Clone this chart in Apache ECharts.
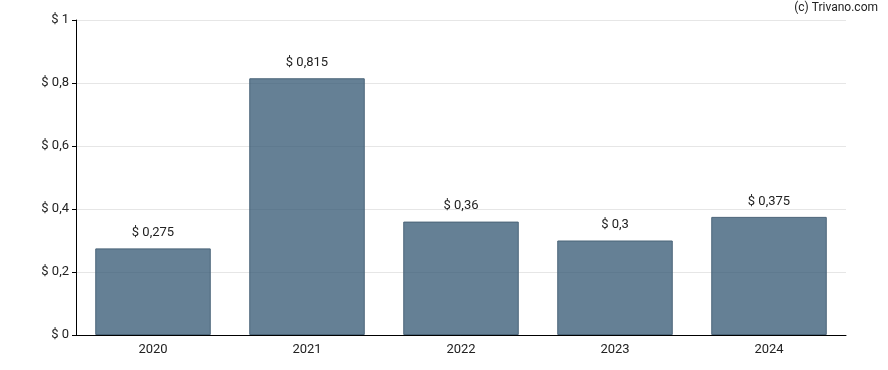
<!DOCTYPE html>
<html><head><meta charset="utf-8">
<script src="https://cdn.jsdelivr.net/npm/echarts@6/dist/echarts.min.js"></script>
<style>html,body{margin:0;padding:0;background:#fff}#c{width:888px;height:370px}</style>
</head><body><div id="c"></div>
<script>
const categories = ['2020','2021','2022','2023','2024'];
const values = [0.275, 0.815, 0.36, 0.3, 0.375];
const yTicks = [0, 0.2, 0.4, 0.6, 0.8, 1];
const fmt = v => '$ ' + String(v).replace('.', ',');
const chart = echarts.init(document.getElementById('c'));
chart.setOption({
  animation: false,
  grid: {left: 76, right: 42, top: 20, bottom: 35},
  graphic: [{type:'text', right: 10, top: 2, style:{text:'(c) Trivano.com', font:'12px Roboto, sans-serif', fill:'#222'}}],
  xAxis: {
    type: 'category', data: categories,
    axisLine: {lineStyle: {color: '#000'}},
    axisTick: {alignWithLabel: true, length: 4, lineStyle: {color: '#000'}},
    axisLabel: {color: '#222', fontSize: 13, fontFamily: 'Roboto', margin: 8}
  },
  yAxis: {
    type: 'value', min: 0, max: 1, interval: 0.2,
    axisLine: {show: true, lineStyle: {color: '#000'}},
    axisTick: {show: true, length: 4, lineStyle: {color: '#000'}},
    axisLabel: {color: '#222', fontSize: 13, fontFamily: 'Roboto', margin: 7, formatter: v => fmt(+v.toFixed(1))},
    splitLine: {lineStyle: {color: '#e6e6e6'}}
  },
  series: [{
    type: 'bar', data: values, barWidth: '75%', z: 1,
    itemStyle: {color: 'rgba(47,84,112,0.74)', borderColor: '#4a6478', borderWidth: 1},
    label: {show: true, position: 'top', distance: 9, color: '#222', fontSize: 13, fontFamily: 'Roboto', formatter: p => fmt(p.value)}
  }]
});
</script></body></html>
